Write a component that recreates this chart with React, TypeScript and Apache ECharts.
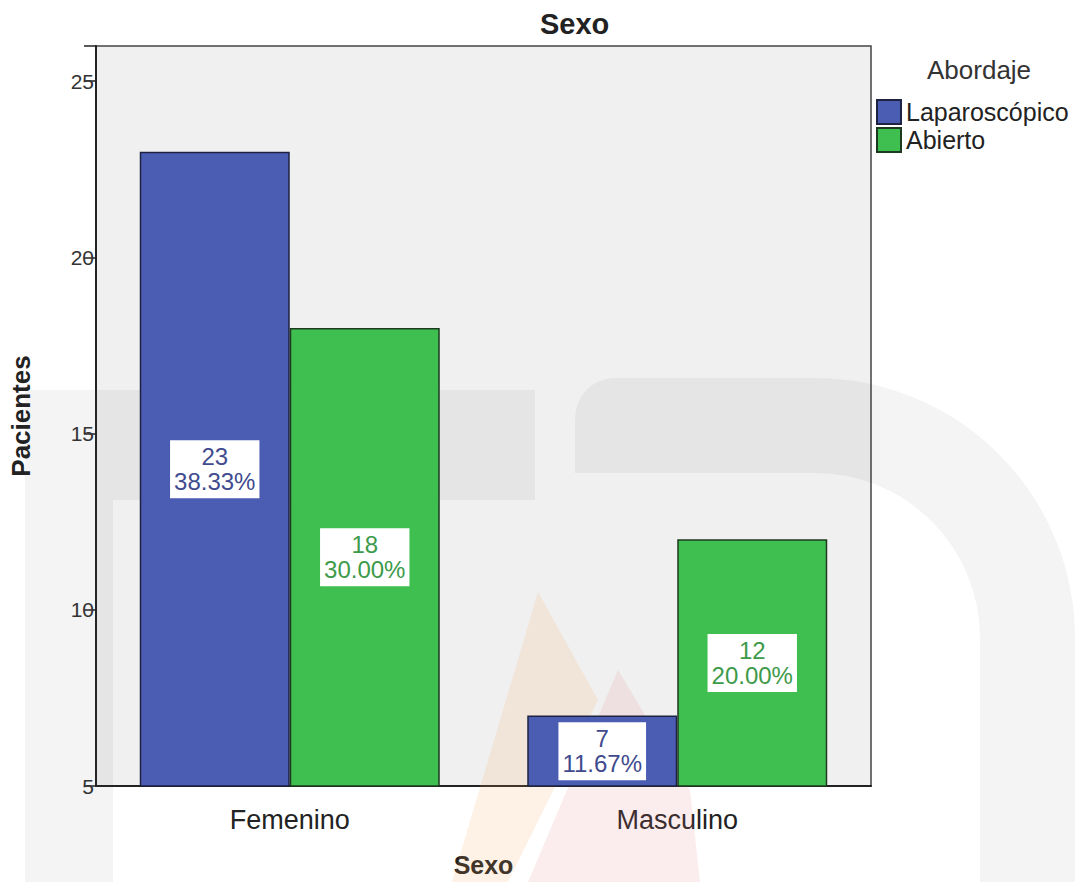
import React, { useEffect, useRef } from "react";
import * as echarts from "echarts";

// Patients by sex and surgical approach
const categories = ["Femenino", "Masculino"];
const seriesNames = ["Laparoscópico", "Abierto"];
const laparoscopico = [23, 7];
const abierto = [18, 12];
const laparoscopicoPct = ["38.33%", "11.67%"];
const abiertoPct = ["30.00%", "20.00%"];
const yTicks = [5, 10, 15, 20, 25];

const FONT = "'Liberation Sans', Arial, sans-serif";
const BLUE = "#4a5db3";
const GREEN = "#3ebf50";

export default function App() {
  const ref = useRef<HTMLDivElement>(null);

  useEffect(() => {
    if (!ref.current) return;
    const chart = echarts.init(ref.current, undefined, { renderer: "svg" });

    const makeLabel = (pcts: string[], color: string) => ({
      show: true,
      position: "inside",
      formatter: (p: any) => `${p.value}\n${pcts[p.dataIndex]}`,
      backgroundColor: "#ffffff",
      padding: [4, 4, 4, 4],
      fontFamily: FONT,
      fontSize: 24,
      lineHeight: 25,
      color,
    });

    const wm = "rgba(70,70,90,0.06)";
    const wmOrange = "rgba(245,165,95,0.15)";
    const wmPink = "rgba(230,120,135,0.14)";

    chart.setOption({
      animation: false,
      backgroundColor: "#ffffff",
      textStyle: { fontFamily: FONT },
      graphic: {
        elements: [
          // faint background emblem
          { type: "rect", z: 1, silent: true, shape: { x: 25, y: 390, width: 510, height: 110 }, style: { fill: wm } },
          { type: "rect", z: 1, silent: true, shape: { x: 25, y: 500, width: 88, height: 382 }, style: { fill: wm } },
          { type: "rect", z: 1, silent: true, shape: { x: 575, y: 378, width: 240, height: 95, r: [40, 0, 0, 0] }, style: { fill: wm } },
          {
            type: "arc",
            z: 1,
            silent: true,
            shape: { cx: 815, cy: 638, r: 212.5, startAngle: -Math.PI / 2, endAngle: 0, clockwise: true },
            style: { stroke: wm, lineWidth: 95, fill: "none", lineCap: "butt" },
          },
          { type: "rect", z: 1, silent: true, shape: { x: 980, y: 638, width: 95, height: 244 }, style: { fill: wm } },
          {
            type: "polygon",
            z: 1,
            silent: true,
            shape: { points: [[452, 882], [538, 592], [598, 700], [508, 882]] },
            style: { fill: wmOrange },
          },
          {
            type: "polygon",
            z: 1,
            silent: true,
            shape: { points: [[528, 882], [618, 670], [690, 790], [700, 882]] },
            style: { fill: wmPink },
          },
          {
            type: "text",
            z: 5,
            left: 540,
            top: 9,
            style: {
              text: "Sexo",
              fontFamily: FONT,
              fontSize: 29,
              fontWeight: "bold",
              fill: "#222",
            },
          },
          {
            type: "text",
            z: 5,
            left: 927,
            top: 57,
            style: {
              text: "Abordaje",
              fontFamily: FONT,
              fontSize: 26,
              fill: "#333",
            },
          },
        ],
      },
      legend: {
        orient: "vertical",
        left: 876,
        top: 99,
        icon: "rect",
        itemWidth: 24,
        itemHeight: 24,
        itemGap: 2,
        padding: 0,
        data: seriesNames,
        textStyle: {
          fontFamily: FONT,
          fontSize: 25,
          lineHeight: 25,
          height: 25,
          color: "#222",
          padding: [0, 0, 0, 0],
        },
      },
      grid: {
        left: 93,
        top: 46,
        right: 218,
        bottom: 92,
        show: true,
        backgroundColor: "#f0f0f0",
        borderColor: "#444",
        borderWidth: 1.5,
      },
      xAxis: {
        type: "category",
        data: categories,
        name: "Sexo",
        nameLocation: "middle",
        nameGap: 66,
        nameTextStyle: { fontFamily: FONT, fontSize: 25, fontWeight: "bold", color: "#222" },
        axisLine: { lineStyle: { color: "#222", width: 2 } },
        axisTick: { alignWithLabel: true, length: 14, lineStyle: { color: "#222", width: 1.5 } },
        axisLabel: { fontFamily: FONT, fontSize: 27, color: "#222", margin: 20 },
      },
      yAxis: {
        type: "value",
        min: 5,
        max: 26,
        interval: 5,
        name: "Pacientes",
        nameLocation: "middle",
        nameRotate: 90,
        nameGap: 62,
        nameTextStyle: { fontFamily: FONT, fontSize: 26, fontWeight: "bold", color: "#222" },
        axisLine: { show: true, lineStyle: { color: "#222", width: 2 } },
        axisTick: { show: true, length: 12, lineStyle: { color: "#222", width: 1.5 } },
        axisLabel: {
          fontFamily: FONT,
          fontSize: 21,
          color: "#333",
          margin: 2,
          formatter: (v: number) => (yTicks.includes(v) ? String(v) : ""),
        },
        splitLine: { show: false },
      },
      series: [
        {
          name: seriesNames[0],
          type: "bar",
          data: laparoscopico,
          barWidth: 150,
          barGap: "0%",
          itemStyle: { color: BLUE, borderColor: "#1c2240", borderWidth: 1.5 },
          label: makeLabel(laparoscopicoPct, "#3f4b8e"),
        },
        {
          name: seriesNames[1],
          type: "bar",
          data: abierto,
          barWidth: 150,
          barGap: "0%",
          itemStyle: { color: GREEN, borderColor: "#1c3a20", borderWidth: 1.5 },
          label: makeLabel(abiertoPct, "#3d9a4a"),
        },
      ],
    });

    return () => chart.dispose();
  }, []);

  return (
    <div
      ref={ref}
      style={{ position: "fixed", left: 0, top: 0, width: 1089, height: 882 }}
    />
  );
}
